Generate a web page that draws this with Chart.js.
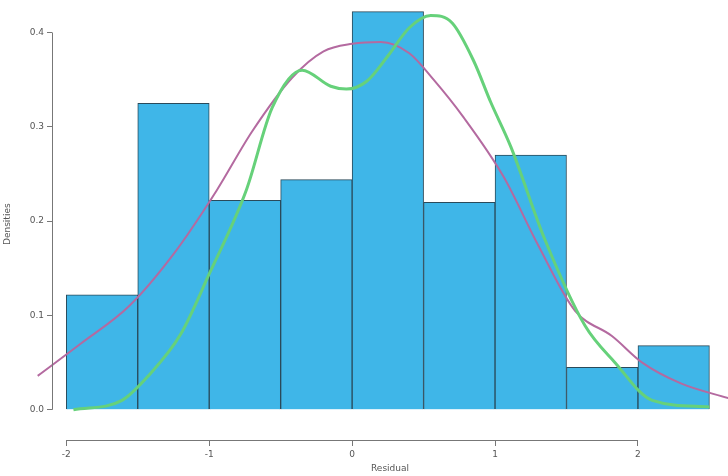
<html><head>
<meta charset="UTF-8">
<title>Residual Densities</title>
<script src="https://cdn.jsdelivr.net/npm/chart.js"></script>
<style>
    body { margin: 0; padding: 0; background: #fff; }
    .wrap { width: 728px; height: 476px; }
</style>
</head>
<body>
<div class="wrap"><canvas id="histChart"></canvas></div>
<script>
    // histogram bins (width 0.5) and their densities
    const binCenters = [-1.75, -1.25, -0.75, -0.25, 0.25, 0.75, 1.25, 1.75, 2.25];
    const densities = [0.122, 0.325, 0.222, 0.244, 0.422, 0.22, 0.27, 0.045, 0.068];

    // normal density curve (purple)
    const normalX = [-2.2, -1.9, -1.56, -1.25, -0.95, -0.7, -0.42, -0.2, 0.0, 0.2, 0.4, 0.57, 0.78, 1.06, 1.3, 1.56, 1.82, 2.03, 2.3, 2.64];
    const normalY = [0.036, 0.07, 0.11, 0.165, 0.232, 0.295, 0.352, 0.38, 0.388, 0.39, 0.378, 0.35, 0.31, 0.247, 0.175, 0.105, 0.078, 0.05, 0.028, 0.012];

    // kernel density curve (green)
    const kernelX = [-1.95, -1.61, -1.42, -1.2, -1.0, -0.74, -0.56, -0.35, -0.15, -0.04, 0.1, 0.25, 0.4, 0.55, 0.7, 0.85, 0.97, 1.11, 1.35, 1.63, 1.84, 2.1, 2.5];
    const kernelY = [0.0, 0.01, 0.037, 0.08, 0.144, 0.233, 0.32, 0.36, 0.343, 0.34, 0.348, 0.375, 0.405, 0.418, 0.41, 0.37, 0.326, 0.279, 0.18, 0.089, 0.05, 0.01, 0.003];

    const xTicks = [-2, -1, 0, 1, 2];
    const yTicks = [0, 0.1, 0.2, 0.3, 0.4];

    const toPoints = (xs, ys) => xs.map((x, i) => ({ x: x, y: ys[i] }));

    // R-style axis lines that only span the labelled ticks
    const rAxes = {
        id: 'rAxes',
        afterDraw(chart) {
            const { ctx, chartArea, scales } = chart;
            ctx.save();
            ctx.strokeStyle = '#777';
            ctx.lineWidth = 1;
            ctx.beginPath();
            ctx.moveTo(chartArea.left + 0.5, scales.y.getPixelForValue(yTicks[0]));
            ctx.lineTo(chartArea.left + 0.5, scales.y.getPixelForValue(yTicks[yTicks.length - 1]));
            ctx.moveTo(scales.x.getPixelForValue(xTicks[0]), chartArea.bottom + 0.5);
            ctx.lineTo(scales.x.getPixelForValue(xTicks[xTicks.length - 1]), chartArea.bottom + 0.5);
            ctx.stroke();
            ctx.restore();
        }
    };

    const ctx = document.getElementById('histChart').getContext('2d');
    new Chart(ctx, {
        data: {
            datasets: [
                {
                    type: 'line',
                    data: toPoints(kernelX, kernelY),
                    borderColor: '#66d17a',
                    borderWidth: 3,
                    pointRadius: 0,
                    cubicInterpolationMode: 'monotone'
                },
                {
                    type: 'line',
                    data: toPoints(normalX, normalY),
                    borderColor: '#b46aa0',
                    borderWidth: 2,
                    pointRadius: 0,
                    cubicInterpolationMode: 'monotone',
                    clip: false
                },
                {
                    type: 'bar',
                    data: toPoints(binCenters, densities),
                    backgroundColor: '#3fb6e8',
                    borderColor: '#2a4a5a',
                    borderWidth: 1,
                    barPercentage: 1,
                    categoryPercentage: 1
                }
            ]
        },
        options: {
            responsive: true,
            maintainAspectRatio: false,
            animation: false,
            layout: { padding: 0 },
            plugins: {
                legend: { display: false },
                tooltip: { enabled: false }
            },
            scales: {
                x: {
                    type: 'linear',
                    offset: false,
                    min: -2.1,
                    max: 2.63,
                    afterBuildTicks: s => { s.ticks = xTicks.map(v => ({ value: v })); },
                    afterFit: s => { s.height = 36; },
                    grid: { offset: false, drawOnChartArea: false, drawTicks: true, tickLength: 6, color: '#777' },
                    border: { display: false },
                    ticks: { color: '#555', font: { family: 'DejaVu Sans', size: 9 }, padding: 3, maxRotation: 0 },
                    title: { display: true, text: 'Residual', color: '#555', font: { family: 'DejaVu Sans', size: 9 }, padding: 2 }
                },
                y: {
                    min: -0.032,
                    max: 0.4255,
                    afterBuildTicks: s => { s.ticks = yTicks.map(v => ({ value: v })); },
                    afterFit: s => { s.width = 52; },
                    grid: { drawOnChartArea: false, drawTicks: true, tickLength: 5, color: '#777' },
                    border: { display: false },
                    ticks: { color: '#555', font: { family: 'DejaVu Sans', size: 9 }, padding: 3, callback: v => v.toFixed(1) },
                    title: { display: true, text: 'Densities', color: '#555', font: { family: 'DejaVu Sans', size: 9 }, padding: 2 }
                }
            }
        },
        plugins: [rAxes]
    });
</script>
</body></html>
